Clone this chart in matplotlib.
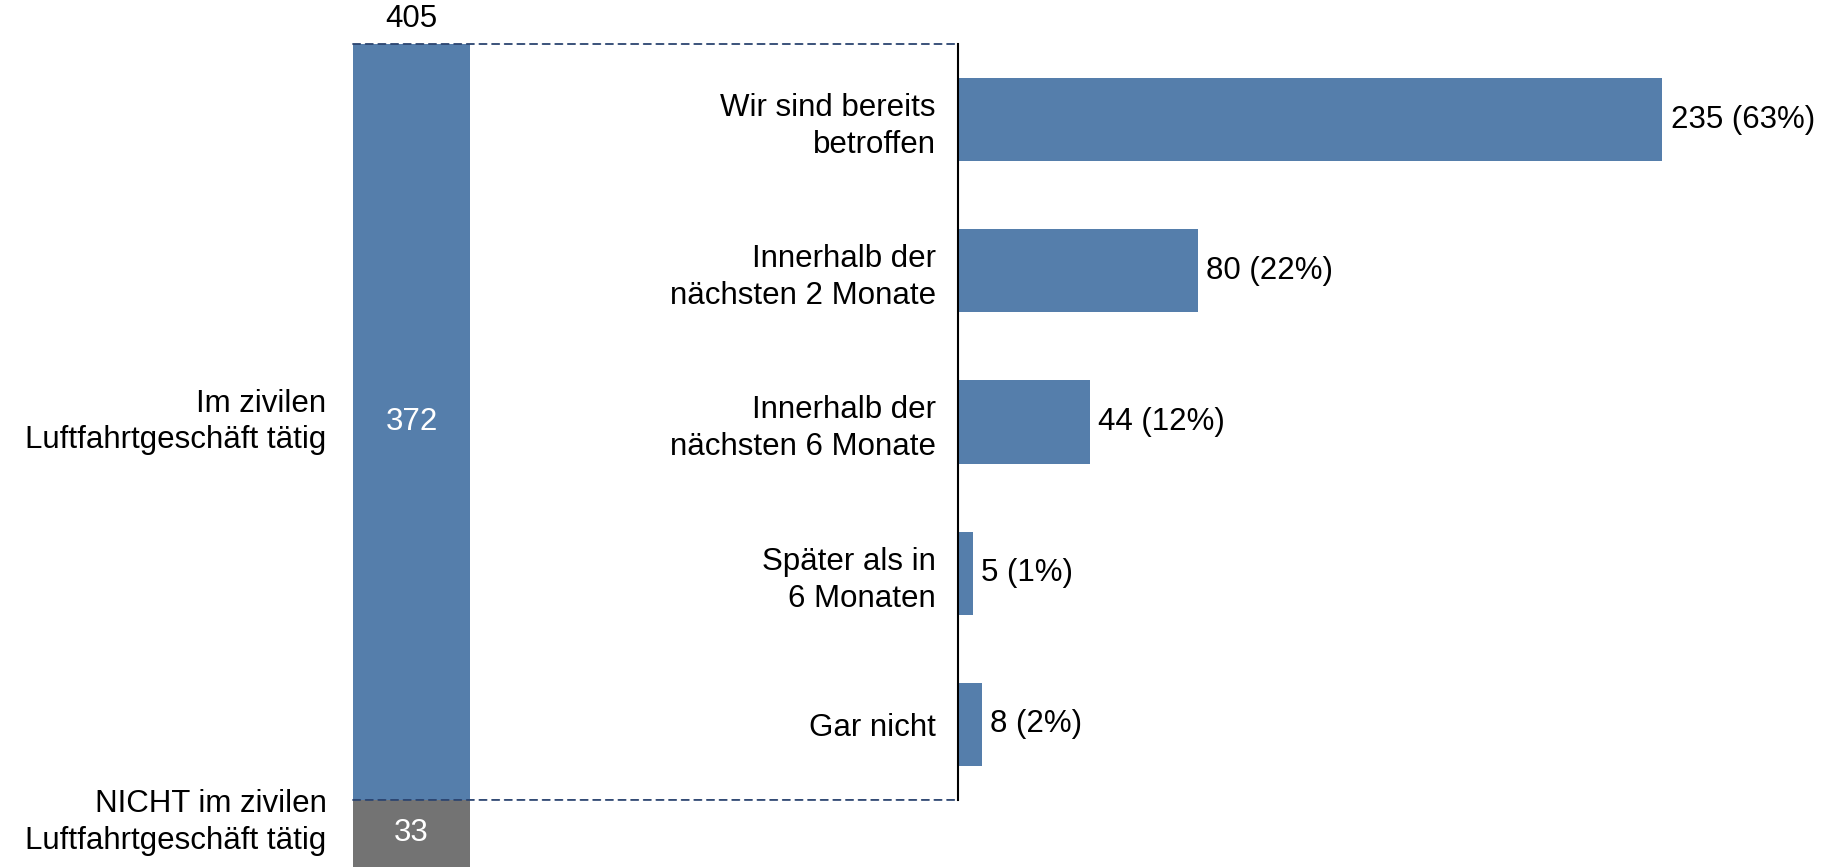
import matplotlib
matplotlib.use("Agg")
import matplotlib.pyplot as plt
from matplotlib.patches import ConnectionPatch

plt.rcParams["font.family"] = ["Liberation Sans", "DejaVu Sans"]
plt.rcParams["font.size"] = 22.5

# --------- data
total = 405
group_labels = ["Im zivilen\nLuftfahrtgeschäft tätig", "NICHT im zivilen\nLuftfahrtgeschäft tätig"]
group_values = [372, 33]

categories = ["Wir sind bereits\nbetroffen", "Innerhalb der\nnächsten 2 Monate",
              "Innerhalb der\nnächsten 6 Monate", "Später als in\n6 Monaten", "Gar nicht"]
counts = [235, 80, 44, 5, 8]
percents = [63, 22, 12, 1, 2]

blue = "#557EAB"
grey = "#737373"
navy = "#2B4470"

fig = plt.figure(figsize=(18.27, 8.67), dpi=100)

# --------- left stacked bar
ax1 = fig.add_axes([353 / 1827, 0, 117 / 1827, (867 - 44) / 867])
nicht = ax1.bar(0, group_values[1], width=1, color=grey)
zivil = ax1.bar(0, group_values[0], bottom=group_values[1], width=1, color=blue)
ax1.set_xlim(-0.5, 0.5)
ax1.set_ylim(0, total)
ax1.bar_label(zivil, label_type="center", color="white")
ax1.bar_label(nicht, label_type="center", color="white")
ax1.annotate(str(total), (0, total), xytext=(0, 7), textcoords="offset points",
             ha="center", va="bottom")

# group labels left of the bar (lower one nudged up to stay inside the figure)
ax1.annotate(group_labels[0], (-0.5, group_values[1] + group_values[0] / 2),
             xytext=(-19, 0), textcoords="offset points",
             ha="right", va="center", linespacing=1.3)
ax1.annotate(group_labels[1], (-0.5, group_values[1] / 2),
             xytext=(-19, 8), textcoords="offset points",
             ha="right", va="center", linespacing=1.3)
ax1.set_xticks([])
ax1.set_yticks([])
for s in ax1.spines.values():
    s.set_visible(False)

# --------- right breakdown
bottom_px = 867 - 44 - group_values[0] / total * (867 - 44)
ax2 = fig.add_axes([958 / 1827, bottom_px / 867, 869 / 1827, (867 - 44 - bottom_px) / 867])
ypos = range(len(categories))
bars = ax2.barh(ypos, counts, height=0.55, color=blue)
ax2.set_xlim(0, 290)
ax2.set_ylim(len(categories) - 0.5, -0.5)
ax2.bar_label(bars, labels=[f"{c} ({p}%)" for c, p in zip(counts, percents)], padding=6)
ax2.set_yticks(list(ypos))
ax2.set_yticklabels(categories)
for lab in ax2.get_yticklabels():
    lab.set_linespacing(1.3)
ax2.tick_params(axis="y", length=0, pad=16)
ax2.set_xticks([])
for k in ["top", "right", "bottom"]:
    ax2.spines[k].set_visible(False)
ax2.spines["left"].set_color("black")
ax2.spines["left"].set_linewidth(1.5)
ax2.patch.set_visible(False)

# dashed connectors
for y1, y2 in [(total, 1), (group_values[1], 0)]:
    con = ConnectionPatch(xyA=(-0.5, y1), coordsA=ax1.transData,
                          xyB=(0, y2), coordsB=ax2.transAxes,
                          color=navy, linestyle=(0, (4, 3)), linewidth=1.3)
    fig.add_artist(con)

plt.savefig("out.png", dpi=100)
